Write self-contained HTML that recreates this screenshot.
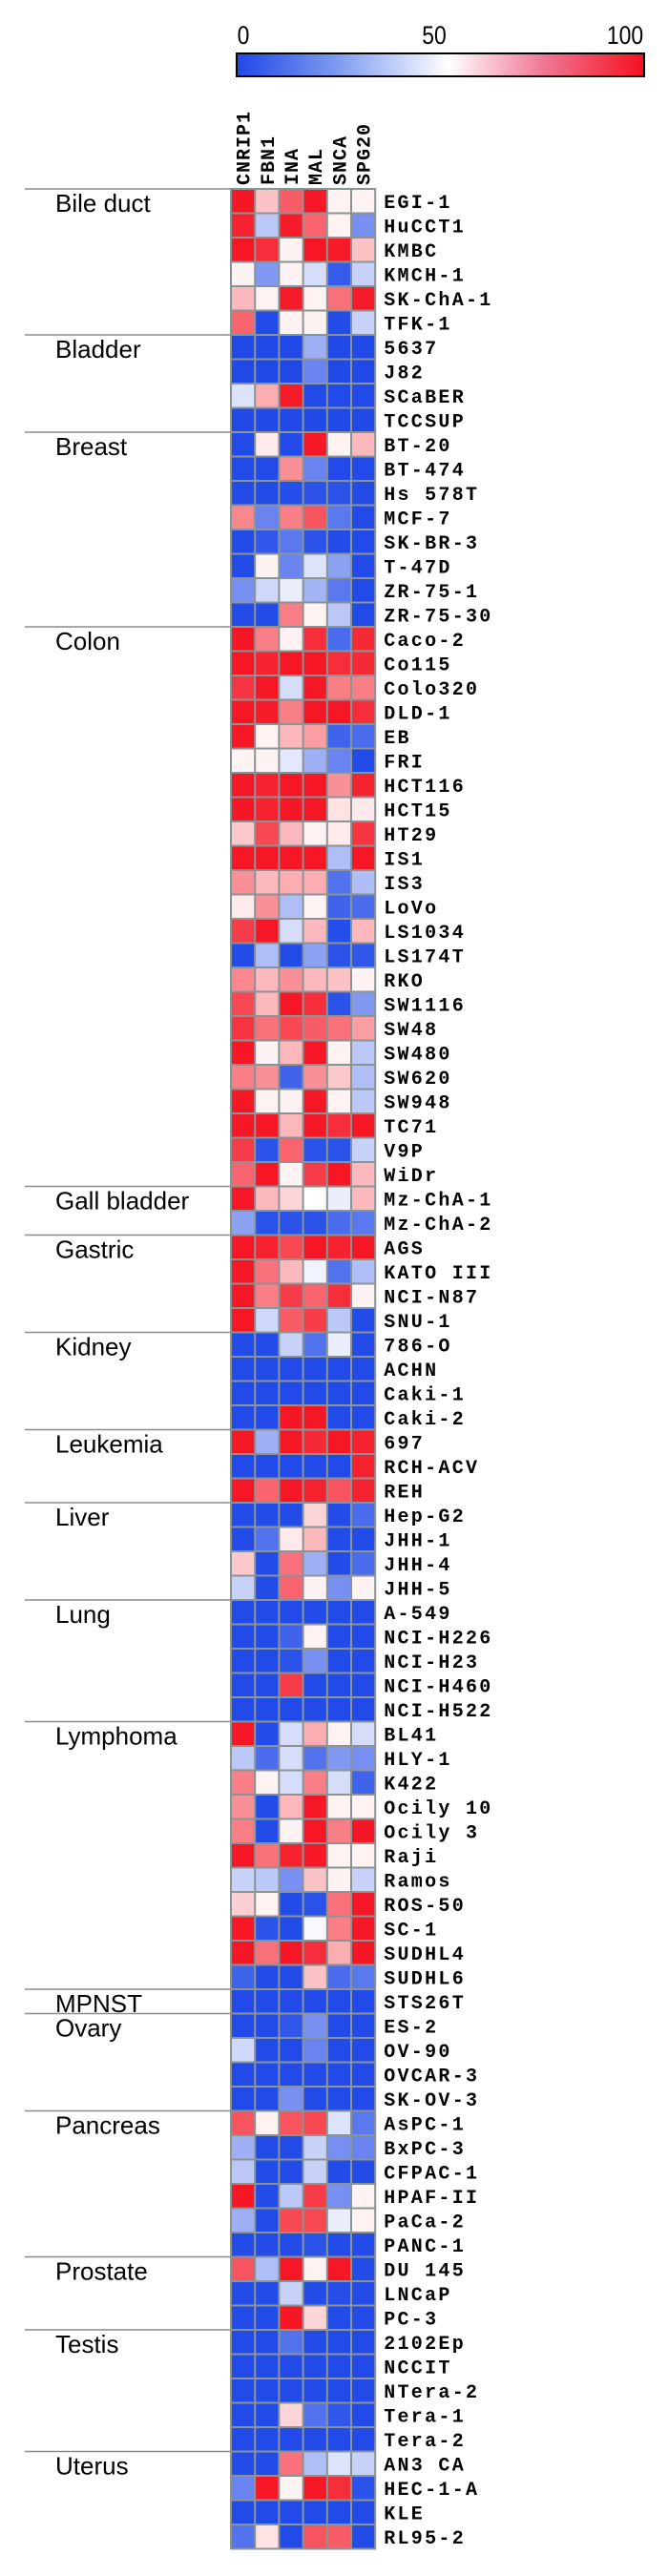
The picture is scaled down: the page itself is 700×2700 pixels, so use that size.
<!DOCTYPE html>
<html><head><meta charset="utf-8">
<style>
html,body{margin:0;padding:0;background:#fff;}
svg{display:block;}
.rl{font-family:"Liberation Mono",monospace;font-weight:bold;font-size:20px;letter-spacing:2.3px;fill:#000;}
.cl{font-family:"Liberation Mono",monospace;font-weight:bold;font-size:20px;letter-spacing:1px;fill:#000;}
.gl{font-family:"Liberation Sans",sans-serif;font-size:26px;fill:#000;}
.tk{font-family:"Liberation Sans",sans-serif;font-size:27px;fill:#000;}
</style></head>
<body>
<svg id="chart" width="700" height="2700" xmlns="http://www.w3.org/2000/svg">
<defs>
<linearGradient id="cbg" x1="0" x2="1" y1="0" y2="0">
<stop offset="0" stop-color="#1f48e8"/>
<stop offset="0.25" stop-color="#7f9cf0"/>
<stop offset="0.52" stop-color="#ffffff"/>
<stop offset="0.75" stop-color="#f07896"/>
<stop offset="1" stop-color="#f5101f"/>
</linearGradient>
</defs>
<g>
<rect x="248" y="56" width="427" height="24" fill="url(#cbg)" stroke="#000" stroke-width="2"/>
<text class="tk" x="255" y="46" text-anchor="middle" transform="translate(255 0) scale(0.85 1) translate(-255 0)">0</text>
<text class="tk" x="455" y="46" text-anchor="middle" transform="translate(455 0) scale(0.85 1) translate(-455 0)">50</text>
<text class="tk" x="655" y="46" text-anchor="middle" transform="translate(655 0) scale(0.85 1) translate(-655 0)">100</text>
</g>
<g id="grid"></g>
</svg>
<script>
const colLabels = ["CNRIP1","FBN1","INA","MAL","SNCA","SPG20"];
const rowLabels = ["EGI-1","HuCCT1","KMBC","KMCH-1","SK-ChA-1","TFK-1","5637","J82","SCaBER","TCCSUP",
"BT-20","BT-474","Hs 578T","MCF-7","SK-BR-3","T-47D","ZR-75-1","ZR-75-30",
"Caco-2","Co115","Colo320","DLD-1","EB","FRI","HCT116","HCT15","HT29","IS1","IS3","LoVo","LS1034","LS174T","RKO","SW1116","SW48","SW480","SW620","SW948","TC71","V9P","WiDr",
"Mz-ChA-1","Mz-ChA-2","AGS","KATO III","NCI-N87","SNU-1","786-O","ACHN","Caki-1","Caki-2","697","RCH-ACV","REH",
"Hep-G2","JHH-1","JHH-4","JHH-5","A-549","NCI-H226","NCI-H23","NCI-H460","NCI-H522",
"BL41","HLY-1","K422","Ocily 10","Ocily 3","Raji","Ramos","ROS-50","SC-1","SUDHL4","SUDHL6","STS26T",
"ES-2","OV-90","OVCAR-3","SK-OV-3","AsPC-1","BxPC-3","CFPAC-1","HPAF-II","PaCa-2","PANC-1",
"DU 145","LNCaP","PC-3","2102Ep","NCCIT","NTera-2","Tera-1","Tera-2","AN3 CA","HEC-1-A","KLE","RL95-2"];
const groupNames = ["Bile duct","Bladder","Breast","Colon","Gall bladder","Gastric","Kidney","Leukemia","Liver","Lung","Lymphoma","MPNST","Ovary","Pancreas","Prostate","Testis","Uterus"];
const groupStarts = [0,6,10,18,41,43,47,51,54,58,63,74,75,79,85,88,93];
const values = [
[98,58,80,98,51,51],[95,40,97,78,51,28],[98,92,51,98,97,58],[51,30,51,44,12,42],[60,51,97,51,75,97],[78,3,51,51,4,42],
[2,2,2,35,2,2],[2,2,2,25,2,2],[45,62,97,3,3,3],[2,2,2,2,2,2],
[3,52,3,98,51,60],[3,3,68,25,3,3],[4,4,5,8,8,4],[70,25,72,82,22,3],[4,10,22,8,4,3],[4,51,25,45,32,3],[28,43,47,36,22,3],[4,4,72,51,40,3],
[98,72,51,92,18,93],[98,95,98,98,92,93],[90,98,44,98,72,72],[98,97,72,98,98,92],[98,51,60,65,15,18],[51,51,46,35,25,4],[98,95,98,98,68,95],[98,95,98,98,53,52],[57,85,60,51,52,90],[98,98,98,98,38,98],[68,60,62,62,20,38],[52,68,38,51,15,18],[88,98,44,60,5,60],[4,38,4,32,8,10],[70,60,68,60,58,51],
[85,60,98,92,8,30],[90,75,85,80,75,65],[98,51,60,98,51,40],[72,68,15,68,57,38],[98,51,51,98,51,40],[98,98,60,98,92,98],[88,8,78,8,8,42],[78,98,51,88,98,60],
[98,60,55,50,47,60],[32,8,8,8,18,22],[98,95,85,98,95,98],[98,75,60,48,20,38],[98,72,88,78,92,51],[98,43,80,88,40,4],
[4,4,42,20,47,4],[3,3,3,3,3,3],[3,3,3,3,3,3],[3,3,98,98,3,3],[98,35,98,93,98,95],[3,3,3,3,3,95],[98,78,98,95,82,95],
[4,4,4,55,4,18],[4,20,52,60,4,4],[57,4,75,35,4,18],[42,4,78,51,28,51],
[3,3,3,3,3,3],[3,3,15,51,3,3],[3,3,8,28,3,3],[3,3,88,3,3,3],[3,3,3,3,3,3],
[98,4,44,62,51,44],[40,18,44,20,30,28],[72,51,44,72,44,15],[68,4,60,98,51,51],[72,4,51,98,72,98],[98,75,95,98,51,51],[42,40,28,58,51,42],[56,51,4,8,75,98],[98,8,4,49,72,98],[98,75,98,92,62,98],[15,4,4,58,18,22],
[3,3,3,3,3,3],
[3,3,10,28,3,3],[43,3,3,25,3,3],[3,3,3,3,3,3],[3,3,28,3,3,3],
[82,51,82,85,45,22],[35,4,4,42,28,25],[40,4,4,42,4,4],[98,4,40,88,28,51],[35,4,85,85,47,51],[4,4,4,8,4,4],
[82,38,98,51,98,4],[4,4,42,4,6,4],[4,4,98,55,4,4],
[3,3,20,3,3,3],[3,3,3,3,3,3],[3,3,3,3,3,3],[3,3,55,20,10,3],[3,3,3,3,3,3],
[4,4,75,38,45,42],[25,98,51,98,92,8],[3,3,3,3,3,3],[20,53,4,82,80,4]
];

const X0 = 242, CW = 25.2, Y0 = 198, RH = 25.5;
function xPos(c){ return X0 + c*CW; }
function yPos(r){ return Y0 + r*RH; }
function lerp(a,b,t){ return Math.round(a+(b-a)*t); }
function color(v){
  const blue=[31,72,232], white=[255,255,255], red=[245,16,31];
  let t, a, b;
  if (v<=50){ t=v/50; t=Math.pow(t,1.6); a=blue; b=white; }
  else { t=(v-50)/50; t=Math.pow(t,0.75); a=white; b=red; }
  return `rgb(${lerp(a[0],b[0],t)},${lerp(a[1],b[1],t)},${lerp(a[2],b[2],t)})`;
}
const NS="http://www.w3.org/2000/svg";
const g=document.getElementById('grid');
function mk(tag, attrs){ const e=document.createElementNS(NS,tag); for(const k in attrs) e.setAttribute(k,attrs[k]); return e; }

const bg = mk('rect',{x:X0-1,y:Y0-1,width:CW*colLabels.length+2,height:RH*rowLabels.length+2,fill:'#8a9494'});


g.appendChild(bg);

values.forEach((row,r)=>{
  row.forEach((v,c)=>{
    const cell = mk('rect',{x:xPos(c)+1,y:yPos(r)+1,width:CW-2,height:RH-2,fill:color(v)});
    
    
    g.appendChild(cell);
  });
});

rowLabels.forEach((lab,r)=>{
  const t = mk('text',{class:'rl',x:X0+CW*colLabels.length+9,y:yPos(r)+RH/2+7});
  t.textContent = lab;
  
  
  g.appendChild(t);
});

colLabels.forEach((lab,c)=>{
  const cx = xPos(c)+CW/2+7, cy = Y0-4;
  const t = mk('text',{class:'cl',x:cx,y:cy,transform:`rotate(-90 ${cx} ${cy})`});
  t.textContent = lab;
  
  
  g.appendChild(t);
});

groupNames.forEach((name,i)=>{
  const y = yPos(groupStarts[i]);
  const ln = mk('line',{x1:26,x2:X0,y1:y,y2:y,stroke:'#8c8c8c','stroke-width':1.5});
  
  
  g.appendChild(ln);
  const t = mk('text',{class:'gl',x:58,y:y+24});
  t.textContent = name;
  
  
  g.appendChild(t);
});
</script>
</body></html>
